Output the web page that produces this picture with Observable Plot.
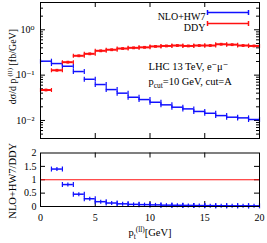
<!DOCTYPE html>
<html>
<head>
<meta charset="utf-8">
<script src="https://cdn.jsdelivr.net/npm/d3@7"></script>
<script src="https://cdn.jsdelivr.net/npm/@observablehq/plot@0.6"></script>
<style>
  html, body { margin: 0; padding: 0; background: white; }
  #chart { position: relative; width: 267px; height: 243px; }
  #chart svg { position: absolute; left: 0; display: block; }
</style>
</head>
<body>
<div id="chart"></div>
<script>
// ---- data ----
const binLo = [0,1,2,3,4,5,6,7,8,9,10,11,12,13,14,15,16,17,18,19];
const binHi = [1,2,3,4,5,6,7,8,9,10,11,12,13,14,15,16,17,18,19,20];
const nloHW7 = [0.203,0.180,0.157,0.120,0.081,0.062,0.048,0.040,0.0325,0.0289,0.0252,0.0221,0.0196,0.0180,0.0158,0.0144,0.0128,0.0118,0.0114,0.0105];
const ddyVals = [0.047,0.128,0.193,0.267,0.295,0.344,0.363,0.386,0.400,0.410,0.430,0.440,0.450,0.440,0.450,0.450,0.480,0.470,0.450,0.440];
const ratioLo = [1,2,3,4,5,6,7,8,9,10,11,12,13,14,15,16,17,18,19];
const ratioHi = [2,3,4,5,6,7,8,9,10,11,12,13,14,15,16,17,18,19,20];
const ratioVals = [1.40,0.82,0.46,0.29,0.18,0.13,0.10,0.08,0.07,0.06,0.05,0.045,0.04,0.035,0.032,0.028,0.025,0.025,0.024];

const xTickValues = [0,5,10,15,20];
const xTickLabels = ["0","5","10","15","20"];
const topYTicks = [0.01,0.1,1];
const topYTickLabels = ["10⁻²","10⁻¹","10⁰"];
const ratioYTicks = [0,0.5,1,1.5,2];
const ratioYTickLabels = ["0","0.5","1","1.5","2"];
const seriesNames = ["NLO+HW7","DDY"];
const seriesColors = ["#1010ff","#ff1010"];

// ---- tables ----
const nloData = binLo.map((lo,i)=>({lo, hi: binHi[i], v: nloHW7[i]}));
const ddyData = binLo.map((lo,i)=>({lo, hi: binHi[i], v: ddyVals[i], c: (lo+binHi[i])/2}));
const ratioData = ratioLo.map((lo,i)=>({lo, hi: ratioHi[i], v: ratioVals[i], c:(lo+ratioHi[i])/2}));

// minor log ticks
const minorLog = [];
for (const dec of [0.001,0.01,0.1,1]) for (let k=2;k<=9;k++){ const v=dec*k; if (v>=0.004 && v<=4) minorLog.push(+v.toPrecision(3)); }

const W = 267, ML = 40, MR = 8;
const frameW = W - ML - MR;
const font = "'Liberation Serif', 'DejaVu Serif', serif";

const capSym = (h)=>({draw(ctx){ ctx.moveTo(0,-h); ctx.lineTo(0,h); }});
const legendSym = {draw(ctx){ const a=20.5; ctx.moveTo(-a,0); ctx.lineTo(a,0); ctx.moveTo(-a,-2.5); ctx.lineTo(-a,2.5); ctx.moveTo(a,-2.5); ctx.lineTo(a,2.5);} };

function errBars(data, color, sw, caph){
  return [
    Plot.ruleY(data, {x1:"lo", x2:"hi", y:"v", stroke: color, strokeWidth: sw}),
    Plot.dot(data, {x:"lo", y:"v", symbol: capSym(caph), r: 3, fill:"none", stroke: color, strokeWidth: 1.2}),
    Plot.dot(data, {x:"hi", y:"v", symbol: capSym(caph), r: 3, fill:"none", stroke: color, strokeWidth: 1.2})
  ];
}

// ---- top panel ----
const topH = 140, topMT = 2, topMB = 2;
const topFrameH = topH - topMT - topMB;
const topPlot = Plot.plot({
  width: W, height: topH, marginLeft: ML, marginRight: MR, marginTop: topMT, marginBottom: topMB,
  style: {fontFamily: font, fontSize: "10px", background: "white", color: "black", overflow: "visible"},
  x: {domain: [0,20], axis: null},
  y: {type: "log", domain: [0.004, 4], axis: null},
  marks: [
    Plot.axisY(topYTicks, {anchor: "left", label: null, tickSize: 0, tickPadding: 6, tickFormat: (d)=>topYTickLabels[topYTicks.indexOf(d)], fontSize: 10}),
    Plot.tickY(topYTicks, {y: d=>d, insetRight: frameW-5, stroke: "black"}),
    Plot.tickY(topYTicks, {y: d=>d, insetLeft: frameW-5, stroke: "black"}),
    Plot.tickY(minorLog, {y: d=>d, insetRight: frameW-3, stroke: "black"}),
    Plot.tickY(minorLog, {y: d=>d, insetLeft: frameW-3, stroke: "black"}),
    Plot.tickX(xTickValues.slice(1,-1), {x: d=>d, insetTop: topFrameH-5, stroke: "black"}),
    Plot.tickX(xTickValues.slice(1,-1), {x: d=>d, insetBottom: topFrameH-5, stroke: "black"}),
    ...errBars(nloData, seriesColors[0], 1.5, 2.5),
    ...errBars(ddyData, seriesColors[1], 2, 2),
    Plot.dot(ddyData, {x:"c", y:"v", symbol:"square", r: 1.6, fill: seriesColors[1]}),
    Plot.text([seriesNames[0]], {text: d=>d, frameAnchor: "top-right", dx: -54, dy: 10, textAnchor: "end", fontSize: 10}),
    Plot.text([seriesNames[1]], {text: d=>d, frameAnchor: "top-right", dx: -54, dy: 21, textAnchor: "end", fontSize: 10}),
    Plot.dot([seriesNames[0]], {frameAnchor: "top-right", dx: -31.5, dy: 10, symbol: legendSym, r: 3, fill: "none", stroke: seriesColors[0], strokeWidth: 1.5}),
    Plot.dot([seriesNames[1]], {frameAnchor: "top-right", dx: -31.5, dy: 21, symbol: legendSym, r: 3, fill: "none", stroke: seriesColors[1], strokeWidth: 1.5}),
    Plot.text(["LHC 13 TeV, e⁻μ⁻"], {text: d=>d, frameAnchor: "top-left", dx: 108, dy: 60, textAnchor: "start", fontSize: 10.5}),
    Plot.text(["pcut=10 GeV, cut=A"], {text: d=>d, frameAnchor: "top-left", dx: 108, dy: 75, textAnchor: "start", fontSize: 10.5}),
    Plot.text(["dσ/d pt(ll) [fb/GeV]"], {text: d=>d, frameAnchor: "left", textAnchor: "middle", dx: -28, dy: -4, rotate: -90, fontSize: 10}),
    Plot.frame({stroke: "black", strokeWidth: 1})
  ]
});

// ---- ratio panel ----
const botH = 103, botMT = 12.5, botMB = 37;
const botFrameH = botH - botMT - botMB;
const botPlot = Plot.plot({
  width: W, height: botH, marginLeft: ML, marginRight: MR, marginTop: botMT, marginBottom: botMB,
  style: {fontFamily: font, fontSize: "10px", background: "white", color: "black", overflow: "visible"},
  x: {domain: [0,20], axis: null},
  y: {domain: [0,2], axis: null},
  marks: [
    Plot.axisY(ratioYTicks, {anchor: "left", label: null, tickSize: 0, tickPadding: 4, tickFormat: d=>ratioYTickLabels[ratioYTicks.indexOf(d)], fontSize: 10}),
    Plot.axisX(xTickValues, {anchor: "bottom", label: null, tickSize: 0, tickPadding: 7, tickFormat: d=>xTickLabels[xTickValues.indexOf(d)], fontSize: 10}),
    Plot.tickY(ratioYTicks.slice(1,-1), {y: d=>d, insetRight: frameW-5, stroke: "black"}),
    Plot.tickY(ratioYTicks.slice(1,-1), {y: d=>d, insetLeft: frameW-5, stroke: "black"}),
    Plot.tickX(xTickValues.slice(1,-1), {x: d=>d, insetTop: botFrameH-5, stroke: "black"}),
    Plot.tickX(xTickValues.slice(1,-1), {x: d=>d, insetBottom: botFrameH-5, stroke: "black"}),
    Plot.ruleY([1], {stroke: seriesColors[1], strokeWidth: 1.2}),
    ...errBars(ratioData, seriesColors[0], 1.5, 2.5),
    Plot.dot(ratioData, {x:"c", y:"v", symbol: capSym(2), r: 3, fill:"none", stroke: seriesColors[0], strokeWidth: 1.2}),
    Plot.text(["NLO+HW7/DDY"], {text: d=>d, frameAnchor: "left", textAnchor: "middle", dx: -28, dy: 1, rotate: -90, fontSize: 10.5}),
    Plot.text(["pt(ll)[GeV]"], {text: d=>d, frameAnchor: "bottom", textAnchor: "middle", dx: 0, dy: 29, fontSize: 10.5}),
    Plot.frame({stroke: "black", strokeWidth: 1})
  ]
});

topPlot.style.top = "0px";
botPlot.style.top = "140px";
document.getElementById("chart").append(topPlot, botPlot);

function rich(svg, plain, parts){
  d3.select(svg).selectAll("text").each(function(){
    if (this.textContent !== plain) return;
    const t = d3.select(this);
    t.text(null);
    for (const p of parts){
      const ts = t.append("tspan").text(p.t);
      if (p.s) ts.attr("baseline-shift", p.s === "sub" ? "-3" : "4").attr("font-size", "70%");
    }
  });
}
rich(topPlot, "pcut=10 GeV, cut=A", [{t:"p"},{t:"cut",s:"sub"},{t:"=10 GeV, cut=A"}]);
rich(topPlot, "dσ/d pt(ll) [fb/GeV]", [{t:"dσ/d p"},{t:"t",s:"sub"},{t:"(ll)",s:"sup"},{t:" [fb/GeV]"}]);
rich(botPlot, "pt(ll)[GeV]", [{t:"p"},{t:"t",s:"sub"},{t:"(ll)",s:"sup"},{t:"[GeV]"}]);
</script>
</body>
</html>
